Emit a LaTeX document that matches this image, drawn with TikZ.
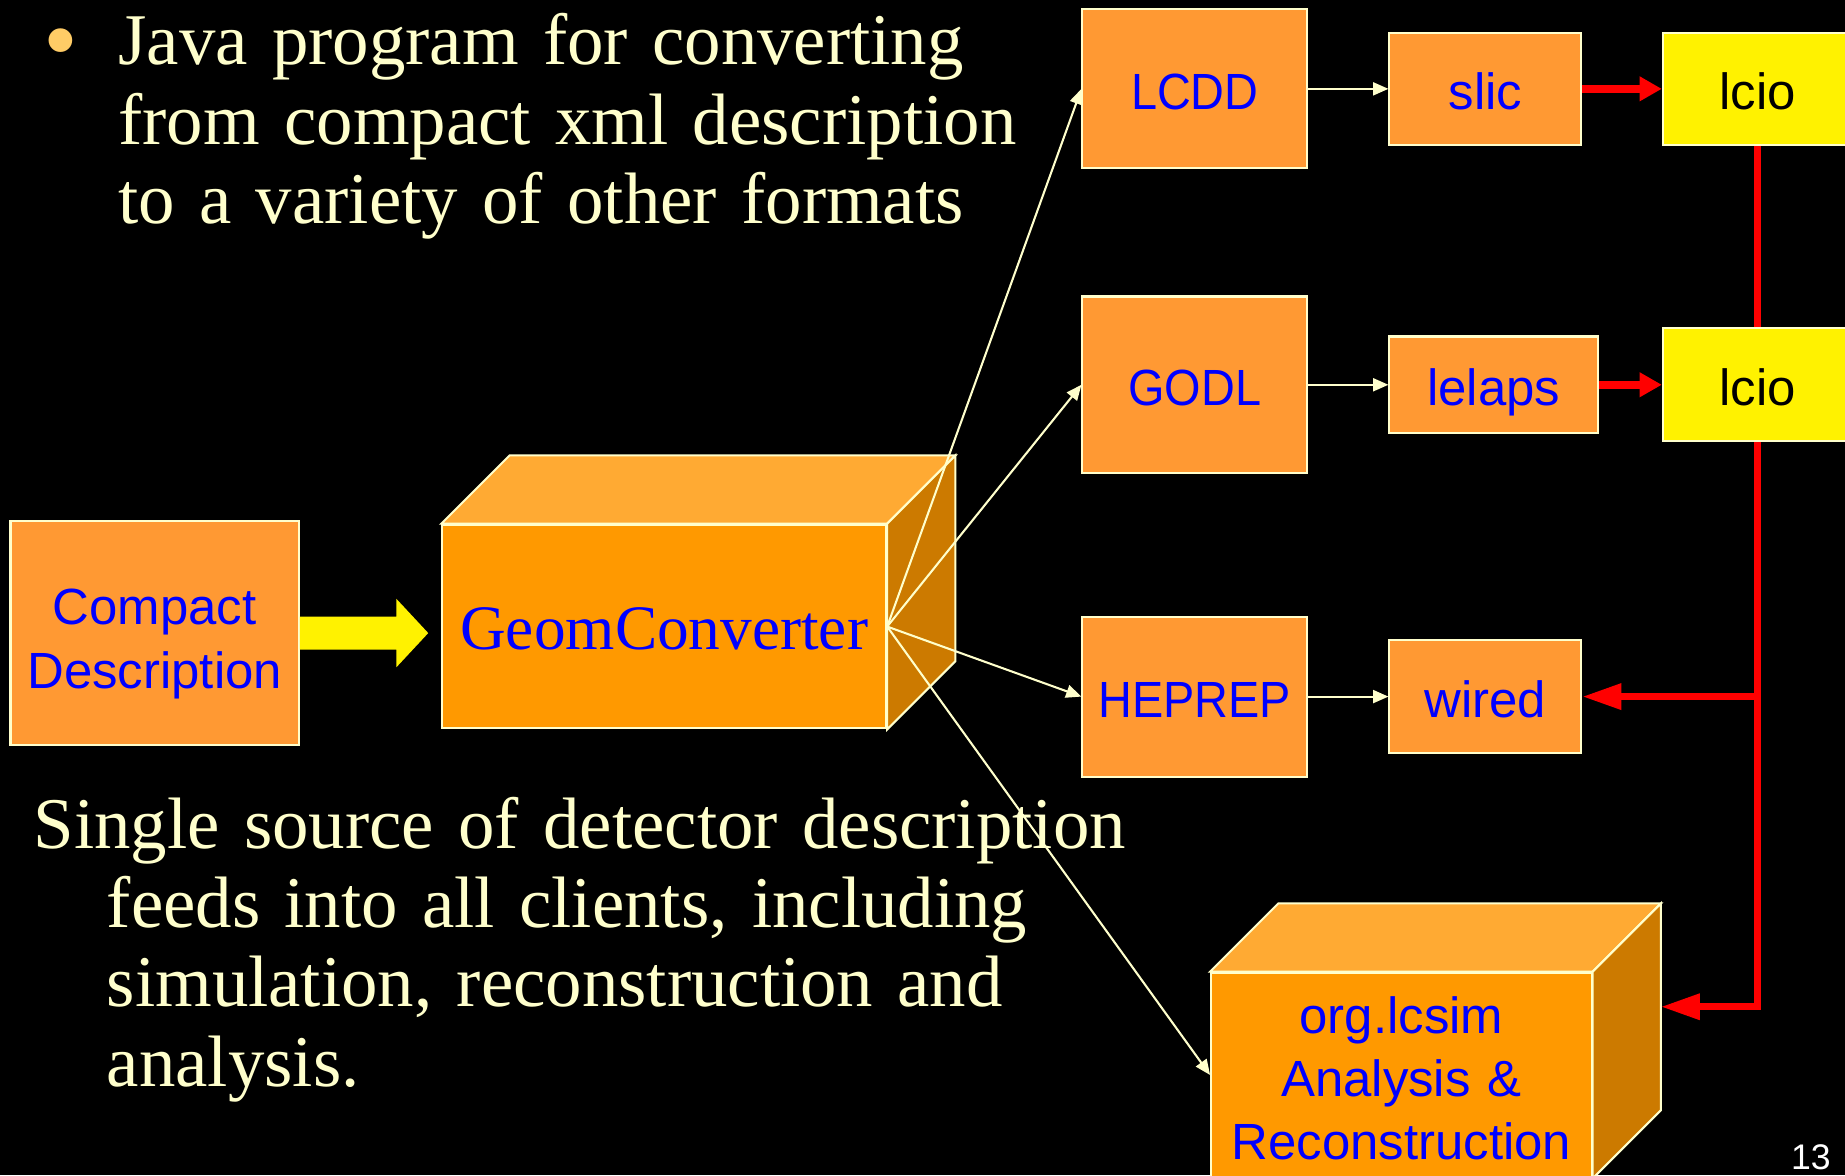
\documentclass[tikz,border=0pt]{standalone}
\usepackage{fontspec}
\setmainfont{Liberation Serif}
\setsansfont{Liberation Sans}
\newfontfamily\capsfont[FakeStretch=0.92]{Liberation Sans}
\usetikzlibrary{positioning}
\usetikzlibrary{calc}
\usetikzlibrary{arrows.meta}

\definecolor{cream}{HTML}{FFFFCC}
\definecolor{dot}{HTML}{FFCC66}
\definecolor{boxorange}{HTML}{FF9933}
\definecolor{cubefront}{HTML}{FF9900}
\definecolor{cubetop}{HTML}{FFAA33}
\definecolor{cubeside}{HTML}{CC7A00}

\begin{document}
\begin{tikzpicture}[x=0.01cm,y=-0.01cm,
		rim/.style={draw=cream, line width=0.5pt},
		box/.style={rim, fill=boxorange, text=blue, inner sep=0pt, align=center,
			text height=10.2pt, text depth=0pt,
			font=\sffamily\fontsize{12.3}{15.3}\selectfont},
		caps/.style={font=\capsfont\fontsize{12.3}{15.3}\selectfont},
		lcio/.style={box, fill=yellow, text=black, minimum width=1.61cm},
		txt/.style={text=cream, inner sep=0pt, align=left,
			font=\fontsize{17.6}{19.2}\selectfont},
		feed/.style={draw=cream, line width=0.5pt, -{Triangle[length=0.13cm,width=0.11cm]}},
		relay/.style={draw=red, line width=0.07cm, -{Triangle[length=0.19cm,width=0.2cm]}},
		back/.style={draw=red, line width=0.06cm, -{Triangle[length=0.33cm,width=0.21cm]}}]
	\useasboundingbox (0,0) rectangle (1568,999);
	\fill[black] (0,0) rectangle (1568,999);

	% source and converter
	\node[box, minimum width=2.45cm, minimum height=1.9cm, text width=2.45cm,
		text height=0pt, text depth=4pt] (compact) at (131.5,538) {Compact\\Description};
	\node[box, fill=cubefront, minimum width=3.77cm, minimum height=1.73cm,
		text height=10.9pt, font=\fontsize{15.3}{18}\selectfont] (geom) at (564.5,532.5) {GeomConverter};
	\fill[yellow] (compact.east) +(0,-14) -- +(82,-14) -- +(82,-29) -- +(109,0)
		-- +(82,29) -- +(82,14) -- +(0,14) -- cycle;

	% formats
	\node[box, caps, minimum width=1.91cm, minimum height=1.35cm] (lcdd) at (1015.5,75.5) {LCDD};
	\node[box, caps, minimum width=1.91cm, minimum height=1.5cm] (godl) at (1015.5,327) {GODL};
	\node[box, caps, minimum width=1.91cm, minimum height=1.36cm] (heprep) at (1015.5,592) {HEPREP};

	% clients
	\node[box, minimum width=1.63cm, minimum height=0.95cm, right=0.68cm of lcdd] (slic) {slic};
	\node[box, minimum width=1.77cm, minimum height=0.82cm, right=0.68cm of godl] (lelaps) {lelaps};
	\node[box, minimum width=1.63cm, minimum height=0.96cm, right=0.68cm of heprep] (wired) {wired};
	\node[lcio, minimum height=0.95cm, right=0.675cm of slic] (lcioA) {lcio};
	\node[lcio, minimum height=0.96cm, right=0.535cm of lelaps] (lcioB) {lcio};
	\node[box, fill=cubefront, minimum width=3.232cm, minimum height=1.738cm, text width=3.232cm,
		text height=0pt, text depth=20.3pt] (lcsim) at (1191,913.6)
		{org.lcsim\\Analysis \&\\Reconstruction};

	% cube faces
	\foreach \c in {geom,lcsim}{
		\filldraw[rim, fill=cubetop] (\c.north west) -- ++(58,-58) -- ($(\c.north east)+(58,-58)$)
			-- (\c.north east) -- cycle;
		\filldraw[rim, fill=cubeside] (\c.north east) -- ++(58,-58) -- ($(\c.south east)+(58,-58)$)
			-- (\c.south east) -- cycle;
	}

	% text
	\node[text=dot, inner sep=0pt, font=\fontsize{24}{24}\selectfont] (bullet) at (51.6,43.5) {•};
	\node[txt, text width=8.6cm, anchor=base west] (intro) at (100,55)
		{Java program for converting\\from compact xml description\\to a variety of other formats};
	\node[txt, text width=10cm, anchor=base west] (claim) at (28,720.7)
		{Single source of detector description\\
		\hspace*{0.62cm}feeds into all clients, including\\
		\hspace*{0.62cm}simulation, reconstruction and\\
		\hspace*{0.62cm}analysis.};
	\node[text=white, inner sep=0pt, anchor=base, font=\sffamily\fontsize{8.6}{10}\selectfont] (page) at (1539,994) {13};

	% connectors
	\foreach \t in {lcdd,godl,heprep,lcsim}
		\draw[feed] (geom.east) -- (\t.west);
	\foreach \a/\b in {lcdd/slic, godl/lelaps, heprep/wired}
		\draw[feed] (\a) -- (\b);
	\foreach \a/\b in {slic/lcioA, lelaps/lcioB}
		\draw[relay] (\a) -- (\b);
	\draw[red, line width=0.06cm] (lcioA) -- (lcioB);
	\coordinate (lcsimin) at ($(lcsim.east)+(58,-58)$);
	\draw[back] (lcioB.south) |- (lcsimin);
	\draw[back] (lcioB.south |- wired.east) -- (wired.east);
\end{tikzpicture}
\end{document}
